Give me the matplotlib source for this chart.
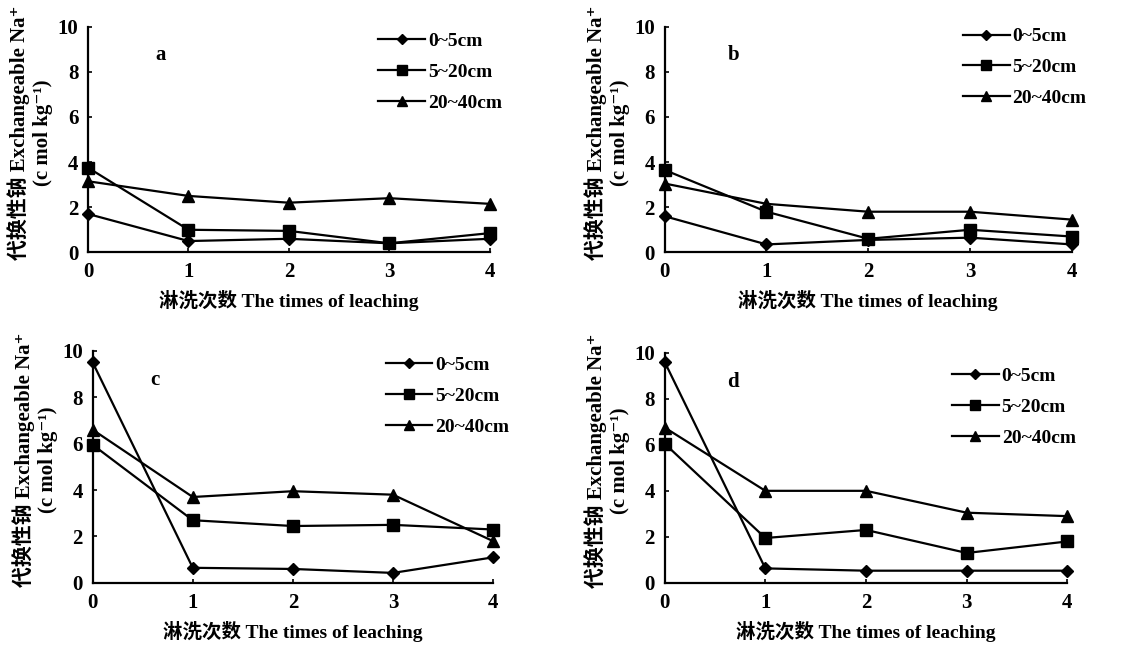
import matplotlib
matplotlib.use("Agg")
from matplotlib import pyplot as plt

plt.rcParams['font.family'] = ['Liberation Serif', 'Noto Sans CJK SC', 'DejaVu Serif']
plt.rcParams['font.weight'] = 'bold'
plt.rcParams['axes.labelweight'] = 'bold'

# Data
leach_times = [0, 1, 2, 3, 4]
depths = ["0~5cm", "5~20cm", "20~40cm"]
panel_names = ["a", "b", "c", "d"]

na_a_0_5 = [1.7, 0.5, 0.6, 0.4, 0.6]
na_a_5_20 = [3.75, 1.0, 0.95, 0.4, 0.85]
na_a_20_40 = [3.15, 2.5, 2.2, 2.4, 2.15]

na_b_0_5 = [1.6, 0.35, 0.55, 0.65, 0.35]
na_b_5_20 = [3.65, 1.8, 0.6, 1.0, 0.7]
na_b_20_40 = [3.05, 2.15, 1.8, 1.8, 1.45]

na_c_0_5 = [9.5, 0.65, 0.6, 0.43, 1.1]
na_c_5_20 = [5.95, 2.7, 2.45, 2.5, 2.3]
na_c_20_40 = [6.6, 3.7, 3.95, 3.8, 1.8]

na_d_0_5 = [9.6, 0.63, 0.53, 0.53, 0.53]
na_d_5_20 = [6.05, 1.95, 2.3, 1.3, 1.8]
na_d_20_40 = [6.75, 4.0, 4.0, 3.05, 2.9]

panel_data = [
    [na_a_0_5, na_a_5_20, na_a_20_40],
    [na_b_0_5, na_b_5_20, na_b_20_40],
    [na_c_0_5, na_c_5_20, na_c_20_40],
    [na_d_0_5, na_d_5_20, na_d_20_40],
]

markers = ["D", "s", "^"]
marker_sizes = [6, 9, 9]

# axes positions [left, bottom, width, height] in figure fractions
positions = [
    [0.077, 0.613, 0.351, 0.346],
    [0.581, 0.613, 0.356, 0.346],
    [0.081, 0.106, 0.350, 0.356],
    [0.581, 0.106, 0.352, 0.353],
]
letter_x = [0.18, 0.17, 0.155, 0.17]
legend_anchor = [(1.05, 1.01), (1.055, 1.03), (1.06, 1.01), (1.04, 0.97)]

fig = plt.figure(figsize=(11.44, 6.52), dpi=100)

for name, pos, lx, anchor, series in zip(panel_names, positions, letter_x,
                                         legend_anchor, panel_data):
    ax = fig.add_axes(pos)
    for label, values, mk, ms in zip(depths, series, markers, marker_sizes):
        ax.plot(leach_times, values, color="black", lw=1.6, marker=mk,
                markersize=ms, label=label, clip_on=False)

    ax.set_xlim(0, 4)
    ax.set_ylim(0, 10)
    ax.set_xticks(leach_times)
    ax.set_yticks([0, 2, 4, 6, 8, 10])
    ax.spines['top'].set_visible(False)
    ax.spines['right'].set_visible(False)
    ax.spines['left'].set_linewidth(1.6)
    ax.spines['bottom'].set_linewidth(1.6)
    ax.tick_params(direction="in", length=3, width=1.2, labelsize=15, pad=7)

    ax.set_xlabel("淋洗次数 The times of leaching", fontsize=14, labelpad=6)
    ax.set_ylabel("代换性钠 Exchangeable Na⁺\n(c mol kg⁻¹)",
                  fontsize=15, labelpad=3, linespacing=1.2, y=0.53)
    ax.text(lx, 0.875, name, transform=ax.transAxes, fontsize=15,
            ha="center", va="center")

    ax.legend(loc="upper right", bbox_to_anchor=anchor, frameon=False,
              handlelength=2.4, handletextpad=0.15, labelspacing=0.68,
              fontsize=14, borderaxespad=0, markerscale=0.8)

plt.savefig("out.png", dpi=100)
